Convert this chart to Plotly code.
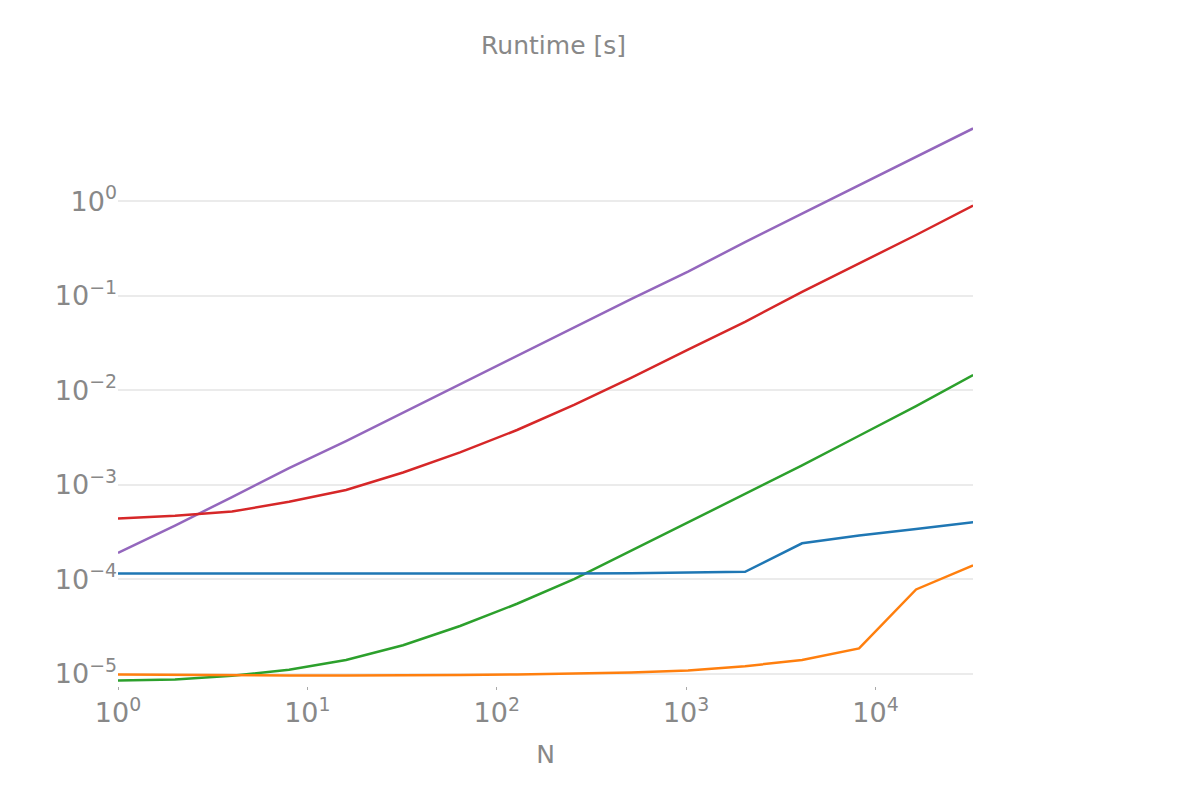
import math
import plotly.graph_objects as go

N = [1, 2, 4, 8, 16, 32, 64, 128, 256, 512, 1024, 2048, 4096, 8192, 16384, 32768]

iterrows = [1.9e-4, 3.7e-4, 7.4e-4, 1.5e-3, 2.9e-3, 5.8e-3, 1.15e-2, 2.3e-2, 4.6e-2,
            9.2e-2, 0.18, 0.37, 0.74, 1.48, 2.95, 5.9]
apply = [4.4e-4, 4.7e-4, 5.2e-4, 6.6e-4, 8.8e-4, 1.35e-3, 2.2e-3, 3.8e-3, 7.0e-3,
         1.35e-2, 2.7e-2, 5.3e-2, 0.11, 0.22, 0.44, 0.9]
list_comp = [8.5e-6, 8.7e-6, 9.5e-6, 1.1e-5, 1.4e-5, 2.0e-5, 3.2e-5, 5.5e-5, 1.0e-4,
             2.0e-4, 4.0e-4, 8.0e-4, 1.6e-3, 3.3e-3, 6.8e-3, 1.45e-2]
vec = [1.15e-4, 1.15e-4, 1.15e-4, 1.15e-4, 1.14e-4, 1.13e-4, 1.13e-4, 1.14e-4, 1.15e-4,
       1.16e-4, 1.18e-4, 1.2e-4, 2.4e-4, 2.9e-4, 3.4e-4, 4.0e-4]
vec_numpy = [9.8e-6, 9.7e-6, 9.6e-6, 9.6e-6, 9.6e-6, 9.6e-6, 9.7e-6, 9.8e-6, 1.0e-5,
             1.03e-5, 1.08e-5, 1.2e-5, 1.4e-5, 1.85e-5, 7.8e-5, 1.4e-4]

series = {"iterrows": (iterrows, "#9467bd"), "apply": (apply, "#d62728"),
          "list_comp": (list_comp, "#2ca02c"), "vec": (vec, "#1f77b4"),
          "vec_numpy": (vec_numpy, "#ff7f0e")}

fig = go.Figure()
for name, (vals, color) in series.items():
    fig.add_trace(go.Scatter(x=N, y=vals, mode="lines", name=name,
                             line=dict(color=color, width=2.5)))
    fig.add_annotation(x=math.log10(N[-1]), y=math.log10(vals[-1]), text=name,
                       xanchor="left", showarrow=False, xshift=-3,
                       font=dict(size=27, color=color))

sup = lambda e: "10<sup>" + str(e).replace("-", "−") + "</sup>"

fig.update_layout(
    width=1186, height=798, showlegend=False,
    plot_bgcolor="white", paper_bgcolor="white",
    margin=dict(l=110, r=221, t=113, b=120),
    font=dict(family="DejaVu Sans", color="#888888"),
    title=dict(text="Runtime [s]", x=0.46, xanchor="center", y=0.953, yanchor="middle",
               font=dict(size=25, color="#888888")),
    xaxis=dict(type="log", range=[0, 4.515], showgrid=False, zeroline=False,
               tickvals=[1, 10, 100, 1000, 10000],
               ticktext=[sup(e) for e in range(5)],
               ticks="outside", ticklen=3, tickcolor="#aaaaaa",
               tickfont=dict(size=27, color="#888888"),
               title=dict(text="N", standoff=18, font=dict(size=25, color="#888888"))),
    yaxis=dict(type="log", range=[-5.13, 0.85], zeroline=False,
               gridcolor="#ebebeb", gridwidth=2,
               tickvals=[10 ** e for e in range(-5, 1)],
               ticktext=[sup(e) for e in range(-5, 1)],
               tickfont=dict(size=27, color="#888888")),
)

fig.write_html("out.html")
